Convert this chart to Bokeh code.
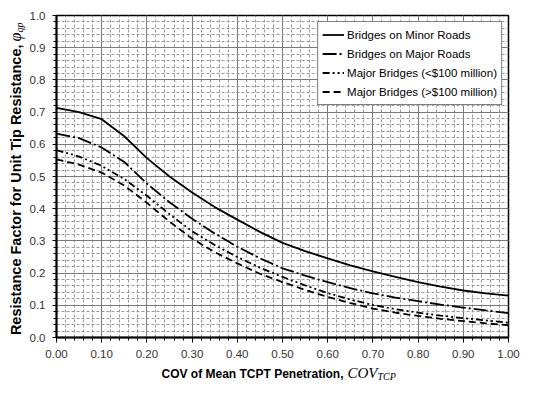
import math
from bokeh.plotting import figure
from bokeh.layouts import row, column
from bokeh.models import (SingleIntervalTicker, NumeralTickFormatter, Legend,
                          LegendItem, Range1d)
from bokeh.core.properties import value
from bokeh.embed import file_html
from bokeh.resources import INLINE

# ---- data ----
cov = [0.00, 0.05, 0.10, 0.15, 0.20, 0.25, 0.30, 0.35, 0.40, 0.45, 0.50,
       0.55, 0.60, 0.65, 0.70, 0.75, 0.80, 0.85, 0.90, 0.95, 1.00]
minor_roads = [0.713, 0.700, 0.678, 0.625, 0.557, 0.500, 0.450, 0.405, 0.366, 0.328, 0.294,
               0.268, 0.246, 0.224, 0.205, 0.188, 0.172, 0.158, 0.146, 0.137, 0.130]
major_roads = [0.633, 0.619, 0.590, 0.545, 0.478, 0.420, 0.369, 0.323, 0.282, 0.246, 0.215,
               0.192, 0.172, 0.153, 0.137, 0.124, 0.113, 0.102, 0.093, 0.084, 0.076]
major_lt100 = [0.582, 0.562, 0.533, 0.492, 0.440, 0.383, 0.330, 0.287, 0.250, 0.217, 0.188,
               0.162, 0.138, 0.118, 0.101, 0.088, 0.077, 0.068, 0.060, 0.053, 0.046]
major_gt100 = [0.553, 0.537, 0.512, 0.472, 0.418, 0.360, 0.307, 0.265, 0.230, 0.198, 0.172,
               0.148, 0.126, 0.107, 0.090, 0.077, 0.067, 0.058, 0.051, 0.044, 0.038]

series_labels = ["Bridges on Minor Roads", "Bridges on Major Roads",
                 "Major Bridges (<$100 million)", "Major Bridges (>$100 million)"]

x_title_main = "COV of Mean TCPT Penetration,"
x_title_sym = "COV"
x_title_sub = "TCP"
y_title_main = "Resistance Factor for Unit Tip Resistance,"
y_title_sym = "φ"
y_title_sub = "qp"

FONT = "Liberation Sans"
SERIF = "Liberation Serif"

YW = 26      # width of the y-title strip
MAIN_W = 494
MAIN_H = 365
XH = 16      # height of the x-title strip
BORDER_TOP = 15
BORDER_BOTTOM = 28

# ---------------- main chart ----------------
p = figure(width=MAIN_W, height=MAIN_H, output_backend="svg", toolbar_location=None,
           title=None,
           x_range=Range1d(0, 1), y_range=Range1d(0, 1),
           min_border_left=29, min_border_right=12,
           min_border_top=BORDER_TOP, min_border_bottom=BORDER_BOTTOM,
           background_fill_color="white", border_fill_color="white")

p.xaxis.ticker = SingleIntervalTicker(interval=0.1, num_minor_ticks=5)
p.yaxis.ticker = SingleIntervalTicker(interval=0.1, num_minor_ticks=5)
p.xaxis.formatter = NumeralTickFormatter(format="0.00")
p.yaxis.formatter = NumeralTickFormatter(format="0.0")

for ax in (p.xaxis, p.yaxis):
    ax.axis_line_color = "black"
    ax.axis_line_width = 2
    ax.major_tick_line_color = "black"
    ax.minor_tick_line_color = "black"
    ax.major_tick_in = 0
    ax.minor_tick_in = 0
    ax.major_label_text_font = FONT
    ax.major_label_text_font_size = "11.5px"
    ax.major_label_text_color = "#333333"
p.xaxis.major_tick_out = 5
p.xaxis.minor_tick_out = 3
p.xaxis.major_label_standoff = 7
p.yaxis.major_tick_out = 4
p.yaxis.minor_tick_out = 3
p.yaxis.major_label_standoff = 7

for g in (p.xgrid, p.ygrid):
    g.grid_line_color = "#7a7a7a"
    g.grid_line_width = 1
    g.minor_grid_line_color = "#9a9a9a"
    g.minor_grid_line_dash = "3 2"
    g.minor_grid_line_width = 1

p.outline_line_color = "black"
p.outline_line_width = 1.5

r1 = p.line(cov, minor_roads, line_color="black", line_width=1.8)
r2 = p.line(cov, major_roads, line_color="black", line_width=1.8, line_dash="14 3 2 3")
r3 = p.line(cov, major_lt100, line_color="black", line_width=1.8, line_dash="7 3 2 3 2 3")
r4 = p.line(cov, major_gt100, line_color="black", line_width=1.8, line_dash="7 4")

legend = Legend(items=[LegendItem(label=series_labels[0], renderers=[r1]),
                       LegendItem(label=series_labels[1], renderers=[r2]),
                       LegendItem(label=series_labels[2], renderers=[r3]),
                       LegendItem(label=series_labels[3], renderers=[r4])],
                location="top_right")
legend.margin = 6
legend.padding = 4
legend.spacing = 2
legend.label_height = 17
legend.glyph_height = 17
legend.glyph_width = 22
legend.label_standoff = 3
legend.label_text_font = FONT
legend.label_text_font_size = "11.5px"
legend.label_text_color = "black"
legend.border_line_color = "black"
legend.border_line_width = 1
legend.background_fill_color = "white"
legend.background_fill_alpha = 1
p.add_layout(legend)


def strip(w, h, y0, y1):
    f = figure(width=w, height=h, output_backend="svg", toolbar_location=None, title=None,
               x_range=Range1d(0, w), y_range=Range1d(y0, y1),
               x_axis_location=None, y_axis_location=None,
               min_border=0, min_border_left=0, min_border_right=0,
               min_border_top=0, min_border_bottom=0,
               background_fill_color="white", border_fill_color="white",
               outline_line_color=None)
    f.grid.visible = False
    return f


# ---------------- y-title strip (its frame is aligned with the main frame) ----------------
# data y = MAIN_H - canvas y
yt = strip(YW, MAIN_H, BORDER_BOTTOM, MAIN_H - BORDER_TOP)
yt.text(x=[15], y=[MAIN_H - 44], text=[y_title_main], angle=math.pi / 2,
        text_font=value(FONT), text_font_style="bold", text_font_size="14.5px",
        text_align="right", text_baseline="middle", text_color="black")
yt.text(x=[14.7], y=[MAIN_H - 41], text=[y_title_sym], angle=math.pi / 2,
        text_font=value(SERIF), text_font_style="italic", text_font_size="16px",
        text_align="left", text_baseline="middle", text_color="black")
yt.text(x=[19], y=[MAIN_H - 32], text=[y_title_sub], angle=math.pi / 2,
        text_font=value(SERIF), text_font_style="italic", text_font_size="10px",
        text_align="left", text_baseline="middle", text_color="black")

# ---------------- x-title strip ----------------
TOTAL_W = YW + MAIN_W
xt = strip(TOTAL_W, XH, 0, XH)
xt.text(x=[343], y=[8], text=[x_title_main],
        text_font=value(FONT), text_font_style="bold", text_font_size="12px",
        text_align="right", text_baseline="middle", text_color="black")
xt.text(x=[347], y=[8.9], text=[x_title_sym],
        text_font=value(SERIF), text_font_style="italic", text_font_size="15px",
        text_align="left", text_baseline="middle", text_color="black")
xt.text(x=[377], y=[5.4], text=[x_title_sub],
        text_font=value(SERIF), text_font_style="italic", text_font_size="10px",
        text_align="left", text_baseline="middle", text_color="black")

layout = column(row(yt, p, spacing=0), xt, spacing=0)

open("out.html", "w").write(file_html(layout, INLINE))
